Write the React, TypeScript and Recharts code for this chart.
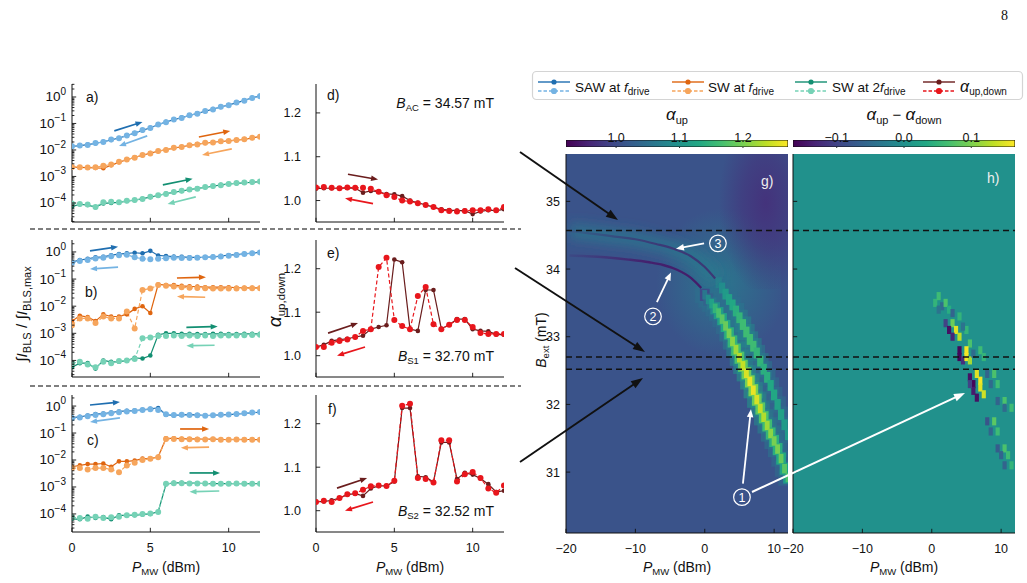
import React from 'react';
import {
  LineChart,
  ComposedChart,
  Line,
  XAxis,
  YAxis,
  ReferenceLine,
  ReferenceArea,
  ReferenceDot,
} from 'recharts';

const FONT = '"Liberation Sans", Arial, Helvetica, sans-serif';
const INK = '#111';
const AXIS = { stroke: INK, strokeWidth: 1 };

// MW drive power of the line scans (dBm)
const power = [0, 0.5, 1, 1.5, 2, 2.5, 3, 3.5, 4, 4.5, 5, 5.5, 6, 6.5, 7, 7.5, 8, 8.5, 9, 9.5, 10, 10.5, 11, 11.5, 12];

// log10 of the normalised BLS intensity, sweep up (solid) / sweep down (dashed)
// a) B = 34.57 mT
const sawUpA = [-1.87, -1.84, -1.8, -1.75, -1.69, -1.62, -1.55, -1.46, -1.36, -1.26, -1.16, -1.05, -0.94, -0.86, -0.78, -0.7, -0.62, -0.54, -0.46, -0.38, -0.3, -0.22, -0.13, -0.03, 0.04];
const sawDownA = [-1.86, -1.83, -1.81, -1.74, -1.7, -1.61, -1.56, -1.45, -1.37, -1.25, -1.17, -1.04, -0.95, -0.85, -0.79, -0.69, -0.63, -0.53, -0.47, -0.37, -0.31, -0.21, -0.14, -0.04, 0.03];
const swUpA = [-2.65, -2.66, -2.67, -2.68, -2.69, -2.58, -2.46, -2.37, -2.28, -2.2, -2.12, -2.05, -1.99, -1.93, -1.88, -1.83, -1.78, -1.74, -1.71, -1.68, -1.66, -1.63, -1.59, -1.55, -1.49];
const swDownA = [-2.64, -2.65, -2.66, -2.65, -2.6, -2.55, -2.45, -2.36, -2.29, -2.19, -2.13, -2.04, -2.0, -1.92, -1.89, -1.82, -1.79, -1.73, -1.72, -1.67, -1.66, -1.62, -1.6, -1.54, -1.5];
const sw2UpA = [-4.14, -4.05, -4.08, -4.16, -4.02, -4.0, -3.98, -3.93, -3.9, -3.84, -3.78, -3.72, -3.65, -3.6, -3.55, -3.5, -3.45, -3.41, -3.37, -3.32, -3.28, -3.26, -3.24, -3.22, -3.2];
const sw2DownA = [-4.02, -4.04, -4.06, -4.15, -3.97, -3.96, -3.97, -3.92, -3.89, -3.85, -3.77, -3.71, -3.66, -3.59, -3.54, -3.49, -3.46, -3.4, -3.36, -3.33, -3.29, -3.25, -3.23, -3.21, -3.19];

// b) B = 32.70 mT
const sawUpB = [-0.37, -0.3, -0.25, -0.2, -0.18, -0.12, -0.08, -0.05, -0.03, -0.05, 0.04, -0.13, -0.15, -0.17, -0.18, -0.2, -0.2, -0.2, -0.18, -0.15, -0.12, -0.1, -0.07, -0.04, -0.01];
const sawDownB = [-0.4, -0.33, -0.3, -0.24, -0.21, -0.16, -0.12, -0.1, -0.2, -0.25, -0.27, -0.25, -0.23, -0.21, -0.22, -0.22, -0.21, -0.2, -0.19, -0.17, -0.14, -0.11, -0.08, -0.05, -0.02];
const swUpB = [-2.55, -2.35, -2.4, -2.55, -2.3, -2.38, -2.38, -2.3, -2.1, -2.0, -2.25, -1.2, -1.22, -1.22, -1.25, -1.27, -1.28, -1.3, -1.3, -1.3, -1.3, -1.32, -1.32, -1.32, -1.32];
const swDownB = [-2.7, -2.45, -2.45, -2.62, -2.38, -2.45, -2.45, -2.2, -2.82, -1.4, -1.35, -1.22, -1.25, -1.27, -1.3, -1.32, -1.33, -1.34, -1.35, -1.35, -1.35, -1.35, -1.34, -1.34, -1.34];
const sw2UpB = [-4.25, -4.1, -4.1, -4.3, -4.0, -4.05, -4.05, -4.0, -3.9, -3.93, -3.82, -3.05, -3.0, -3.0, -3.02, -3.02, -3.03, -3.03, -3.02, -3.02, -3.03, -3.03, -3.02, -3.02, -3.02];
const sw2DownB = [-4.1, -4.05, -4.15, -4.25, -4.05, -4.1, -4.02, -4.0, -3.95, -3.18, -3.15, -3.1, -3.1, -3.08, -3.1, -3.08, -3.1, -3.08, -3.1, -3.08, -3.08, -3.08, -3.07, -3.06, -3.05];

// c) B = 32.52 mT
const sawUpC = [-0.43, -0.4, -0.35, -0.3, -0.28, -0.24, -0.2, -0.18, -0.17, -0.14, -0.1, -0.07, -0.32, -0.35, -0.33, -0.32, -0.33, -0.35, -0.34, -0.33, -0.32, -0.3, -0.27, -0.25, -0.23];
const sawDownC = [-0.45, -0.42, -0.38, -0.33, -0.3, -0.27, -0.23, -0.2, -0.18, -0.15, -0.12, -0.15, -0.3, -0.33, -0.32, -0.33, -0.34, -0.36, -0.34, -0.32, -0.31, -0.29, -0.27, -0.24, -0.22];
const swUpC = [-2.25, -2.2, -2.15, -2.15, -2.13, -2.25, -2.05, -2.05, -2.02, -1.95, -1.95, -1.88, -1.2, -1.2, -1.21, -1.22, -1.22, -1.23, -1.22, -1.24, -1.24, -1.23, -1.24, -1.24, -1.25];
const swDownC = [-2.3, -2.3, -2.35, -2.3, -2.3, -2.35, -2.45, -2.2, -2.1, -2.0, -1.95, -1.9, -1.22, -1.22, -1.23, -1.23, -1.24, -1.24, -1.23, -1.25, -1.25, -1.24, -1.25, -1.25, -1.25];
const sw2UpC = [-4.18, -4.2, -4.1, -4.15, -4.12, -4.2, -4.05, -4.05, -4.05, -4.02, -4.0, -3.92, -2.9, -2.85, -2.85, -2.86, -2.86, -2.88, -2.87, -2.88, -2.87, -2.88, -2.87, -2.88, -2.88];
const sw2DownC = [-4.12, -4.15, -4.18, -4.1, -4.15, -4.12, -4.1, -4.05, -4.03, -4.0, -3.98, -3.93, -2.88, -2.86, -2.86, -2.87, -2.87, -2.87, -2.88, -2.88, -2.88, -2.87, -2.88, -2.88, -2.88];

// alpha_up / alpha_down at the three fields
const alphaUpD = [1.027, 1.028, 1.028, 1.028, 1.029, 1.028, 1.018, 1.022, 1.02, 1.015, 1.014, 1.01, 1.0, 0.995, 0.99, 0.985, 0.98, 0.978, 0.977, 0.977, 0.969, 0.975, 0.978, 0.977, 0.98];
const alphaDownD = [1.03, 1.031, 1.029, 1.028, 1.03, 1.029, 1.029, 1.027, 1.02, 1.012, 1.008, 1.0, 0.998, 0.994, 0.99, 0.985, 0.978, 0.976, 0.975, 0.976, 0.978, 0.978, 0.98, 0.978, 0.985];
const alphaUpE = [1.02, 1.025, 1.034, 1.037, 1.039, 1.043, 1.046, 1.061, 1.066, 1.07, 1.221, 1.215, 1.061, 1.057, 1.151, 1.151, 1.062, 1.071, 1.084, 1.084, 1.061, 1.057, 1.056, 1.049, 1.048];
const alphaDownE = [1.02, 1.02, 1.03, 1.034, 1.037, 1.043, 1.057, 1.061, 1.204, 1.225, 1.082, 1.068, 1.061, 1.137, 1.158, 1.072, 1.061, 1.071, 1.082, 1.082, 1.066, 1.052, 1.05, 1.05, 1.05];
const alphaUpF = [1.021, 1.021, 1.024, 1.029, 1.037, 1.039, 1.034, 1.051, 1.057, 1.057, 1.067, 1.236, 1.236, 1.079, 1.077, 1.066, 1.157, 1.157, 1.073, 1.087, 1.083, 1.074, 1.061, 1.043, 1.046];
const alphaDownF = [1.02, 1.023, 1.02, 1.029, 1.038, 1.04, 1.048, 1.056, 1.058, 1.057, 1.069, 1.241, 1.246, 1.075, 1.073, 1.065, 1.162, 1.162, 1.067, 1.084, 1.089, 1.075, 1.051, 1.041, 1.058];

// field cuts marked in the maps (mT)
const B_AC = 34.57;
const B_S1 = 32.7;
const B_S2 = 32.52;

// alpha_up map: weak resonance arcs at low power
const arcLowerP = [-19.5, -17, -14, -11, -8, -6, -4, -2, -0.5];
const arcLowerB = [34.2, 34.19, 34.17, 34.14, 34.1, 34.06, 33.99, 33.87, 33.72];
const arcUpperP = [-19.5, -16, -13, -10, -7, -4.5, -2, 0, 1.5];
const arcUpperB = [34.56, 34.52, 34.48, 34.44, 34.37, 34.3, 34.19, 34.03, 33.86];
// main branch (1) column by column
const branchP = [0, 0.5, 1, 1.5, 2, 2.5, 3, 3.5, 4, 4.5, 5, 5.5, 6, 6.5, 7, 7.5, 8, 8.5, 9, 9.5, 10, 10.5, 11, 11.5, 12];
const branchB = [33.62, 33.55, 33.49, 33.42, 33.35, 33.26, 33.16, 33.05, 32.93, 32.81, 32.69, 32.57, 32.46, 32.34, 32.21, 32.07, 31.94, 31.81, 31.69, 31.57, 31.46, 31.34, 31.2, 31.05, 30.92];
const branchA = [1.06, 1.09, 1.12, 1.15, 1.17, 1.18, 1.19, 1.2, 1.21, 1.22, 1.23, 1.24, 1.25, 1.26, 1.26, 1.25, 1.24, 1.23, 1.22, 1.21, 1.2, 1.2, 1.19, 1.18, 1.17];
// second branch
const secondP = [2, 2.5, 3, 3.5, 4, 4.5, 5, 5.5, 6, 6.5, 7, 7.5, 8, 8.5, 9, 9.5, 10, 10.5, 11, 11.5, 12];
const secondB = [33.8, 33.72, 33.63, 33.55, 33.47, 33.38, 33.28, 33.18, 33.07, 32.96, 32.86, 32.76, 32.64, 32.52, 32.4, 32.28, 32.14, 32.0, 31.85, 31.7, 31.55];
const secondA = [1.07, 1.09, 1.11, 1.12, 1.13, 1.14, 1.15, 1.16, 1.16, 1.16, 1.16, 1.15, 1.15, 1.14, 1.14, 1.13, 1.13, 1.12, 1.12, 1.11, 1.11];
const G_BASE = 1.01;
const G_DARK = 0.96;

// alpha_up - alpha_down map: non-zero cells
const diffP = [0.5, 1, 1.5, 2, 2.5, 3, 4, 1, 2, 3, 2.5, 3.5, 3, 4, 5, 5.5, 4.5, 4, 4, 4.5, 5, 5, 5.5, 6, 7, 7.5, 5.5, 6, 6, 6.5, 6.5, 7, 7, 7.5, 5.5, 8, 9, 8.5, 9.5, 9.5, 10.5, 10.5, 11.5, 8, 9, 8.5, 9.5, 9.5, 10.5, 10, 11, 10.5, 11.5];
const diffB = [33.5, 33.6, 33.45, 33.5, 33.4, 33.35, 33.3, 33.4, 33.2, 33.2, 33.1, 33.1, 33.0, 33.0, 33.1, 32.9, 33.15, 32.8, 32.7, 32.65, 32.8, 32.7, 32.65, 32.75, 32.8, 32.7, 32.4, 32.3, 32.2, 32.1, 32.45, 32.35, 32.25, 32.15, 32.3, 32.45, 32.45, 32.3, 32.3, 32.05, 32.05, 31.95, 31.95, 31.75, 31.75, 31.6, 31.6, 31.35, 31.35, 31.25, 31.25, 31.1, 31.1];
const diffV = [0.05, 0.06, -0.05, 0.07, 0.04, -0.06, 0.05, -0.04, -0.1, 0.09, -0.15, 0.15, -0.13, 0.13, 0.05, 0.07, -0.04, -0.16, -0.16, -0.12, 0.16, 0.16, 0.12, -0.05, 0.06, 0.05, -0.15, -0.16, -0.14, -0.15, 0.15, 0.16, 0.15, 0.14, -0.1, -0.06, 0.07, -0.05, 0.06, -0.06, 0.07, -0.05, 0.06, -0.08, 0.08, -0.06, 0.06, -0.07, 0.07, -0.06, 0.06, -0.06, 0.05];

const C = {
  sawUp: '#1f6eb0',
  sawDown: '#74b3e3',
  swUp: '#df650f',
  swDown: '#f6a55c',
  sw2Up: '#138f72',
  sw2Down: '#76d2b6',
  aUp: '#6a1d1d',
  aDown: '#e8161c',
};

// sweep direction arrows [x1, y1, x2, y2, colour]; y in log10 for a-c
const dirA = [
  [2.7, -1.28, 4.5, -0.94, C.sawUp], [4.8, -1.47, 3.0, -1.85, C.sawDown],
  [8.1, -1.51, 10.1, -1.28, C.swUp], [10.2, -1.96, 8.3, -2.19, C.swDown],
  [5.8, -3.32, 7.7, -3.09, C.sw2Up], [7.9, -3.77, 6.1, -4.04, C.sw2Down],
];
const dirB = [
  [1.15, 0.04, 2.94, 0.19, C.sawUp], [2.94, -0.56, 1.15, -0.63, C.sawDown],
  [6.7, -0.96, 8.55, -0.93, C.swUp], [8.5, -1.67, 6.7, -1.64, C.swDown],
  [7.3, -2.78, 9.3, -2.75, C.sw2Up], [9.1, -3.44, 7.3, -3.46, C.sw2Down],
];
const dirC = [
  [1.15, 0.04, 3.06, 0.15, C.sawUp], [3.06, -0.44, 1.15, -0.59, C.sawDown],
  [6.9, -0.85, 8.75, -0.85, C.swUp], [8.75, -1.52, 6.95, -1.55, C.swDown],
  [7.5, -2.48, 9.45, -2.48, C.sw2Up], [9.4, -3.15, 7.5, -3.18, C.sw2Down],
];
const dirD = [[2.04, 1.06, 3.96, 1.048, C.aUp], [3.64, 0.993, 1.85, 1.005, C.aDown]];
const dirE = [[0.77, 1.052, 2.68, 1.075, C.aUp], [3.13, 1.02, 1.34, 1.0, C.aDown]];
const dirF = [[1.34, 1.052, 3.26, 1.075, C.aUp], [3.64, 1.02, 1.85, 1.0, C.aDown]];

const VIRIDIS = ['#440154', '#482475', '#414487', '#355f8d', '#2a788e', '#21918c', '#22a884', '#44bf70', '#7ad151', '#bddf26', '#fde725'];
const hexRgb = (h: string) => [1, 3, 5].map((i) => parseInt(h.slice(i, i + 2), 16));
function viridis(t: number) {
  const s = Math.min(1, Math.max(0, t)) * 10;
  const i = Math.min(9, Math.floor(s));
  const f = s - i;
  const a = hexRgb(VIRIDIS[i]);
  const b = hexRgb(VIRIDIS[i + 1]);
  const c = a.map((v, k) => Math.round(v + (b[k] - v) * f));
  return `rgb(${c[0]},${c[1]},${c[2]})`;
}
const tA = (a: number) => (a - 0.921) / 0.35;
const tD = (d: number) => (d + 0.165) / 0.33;

function arrowGeom(x1: number, y1: number, x2: number, y2: number, hl: number, hw: number) {
  const dx = x2 - x1;
  const dy = y2 - y1;
  const L = Math.hypot(dx, dy) || 1;
  const ux = dx / L;
  const uy = dy / L;
  const bx = x2 - ux * hl;
  const by = y2 - uy * hl;
  const px = -uy * hw / 2;
  const py = ux * hw / 2;
  return { bx: bx + ux, by: by + uy, head: `${x2},${y2} ${bx + px},${by + py} ${bx - px},${by - py}` };
}

const arrowShape = (color: string, w = 1.7, hl = 7, hw = 5.5) => (p: any) => {
  const g = arrowGeom(p.x1, p.y1, p.x2, p.y2, hl, hw);
  return (
    <g>
      <line x1={p.x1} y1={p.y1} x2={g.bx} y2={g.by} stroke={color} strokeWidth={w} />
      <polygon points={g.head} fill={color} />
    </g>
  );
};

const fmtNum = (v: number) => (v < 0 ? `\u2212${-v}` : `${v}`);
const fmtOne = (v: number) => v.toFixed(1);
const fmtSigned = (v: number) => (v < 0 ? `\u2212${(-v).toFixed(1)}` : v.toFixed(1));
const fmtPow = (v: number) => {
  const e = Math.round(Math.log10(v));
  return (
    <>
      10
      <tspan dy={-6.5} fontSize={10}>{e === 0 ? '0' : `\u2212${-e}`}</tspan>
    </>
  );
};
const isMinorLog = (v: number) => {
  const e = Math.log10(v);
  return Math.abs(e - Math.round(e)) > 1e-6;
};

// inward ticks on every side, labels only where a formatter is given
const mkTick = (side: string, fmt?: (v: number) => any, minor?: (v: number) => boolean, gap = 6, size = 12.5) => (props: any) => {
  const { x, y, payload } = props;
  const v = payload.value;
  const isMin = minor ? minor(v) : false;
  const len = isMin ? 2.4 : 4.2;
  let x2 = x;
  let y2 = y;
  if (side === 'left') x2 = x + len;
  else if (side === 'right') x2 = x - len;
  else if (side === 'top') y2 = y + len;
  else y2 = y - len;
  let label = null;
  if (fmt && !isMin) {
    label = side === 'left' ? (
      <text x={x - gap} y={y + 4.5} textAnchor="end" fontFamily={FONT} fontSize={size} fill={INK}>{fmt(v)}</text>
    ) : (
      <text x={x} y={y + 19.5} textAnchor="middle" fontFamily={FONT} fontSize={size} fill={INK}>{fmt(v)}</text>
    );
  }
  return (
    <g>
      <line x1={x} y1={y} x2={x2} y2={y2} stroke={INK} strokeWidth={0.9} />
      {label}
    </g>
  );
};

const axisBase = { tickSize: 0, tickMargin: 0, tickLine: false, axisLine: AXIS, interval: 0 as const, allowDataOverflow: true };

function logTicks(lo: number, hi: number) {
  const out: number[] = [];
  for (let n = -5; n <= 0; n++) {
    for (let k = 1; k <= 9; k++) {
      const v = k * 10 ** n;
      if (v >= lo && v <= hi) out.push(v);
    }
  }
  return out;
}

const buildLogRows = (a: number[], b: number[], c: number[], d: number[], e: number[], f: number[]) =>
  power.map((p, i) => ({
    p,
    sawUp: 10 ** a[i],
    sawDown: 10 ** b[i],
    swUp: 10 ** c[i],
    swDown: 10 ** d[i],
    sw2Up: 10 ** e[i],
    sw2Down: 10 ** f[i],
  }));

const LOG_LINES = [
  { key: 'sawUp', color: C.sawUp, dashed: false },
  { key: 'sawDown', color: C.sawDown, dashed: true },
  { key: 'swUp', color: C.swUp, dashed: false },
  { key: 'swDown', color: C.swDown, dashed: true },
  { key: 'sw2Up', color: C.sw2Up, dashed: false },
  { key: 'sw2Down', color: C.sw2Down, dashed: true },
];

function LogPanel({ top, h, rows, dom, arrows, xLabels }: any) {
  const padL = 50, padR = 2, padT = 2, padB = xLabels ? 26 : 2;
  const lo = 10 ** dom[0];
  const hi = 10 ** dom[1];
  const ticks = logTicks(lo, hi);
  return (
    <div style={{ position: 'absolute', left: 72 - padL, top: top - padT }}>
      <LineChart width={188 + padL + padR} height={h + padT + padB} data={rows} margin={{ top: padT, right: padR, bottom: 0, left: 0 }}>
        <XAxis dataKey="p" type="number" domain={[0, 12]} ticks={[0, 5, 10]} height={padB} tick={mkTick('bottom', xLabels ? fmtNum : undefined)} {...axisBase} />
        <XAxis xAxisId="t" orientation="top" type="number" domain={[0, 12]} ticks={[0, 5, 10]} height={0} tick={mkTick('top')} {...axisBase} />
        <YAxis type="number" scale="log" domain={[lo, hi]} ticks={ticks} width={padL} tick={mkTick('left', fmtPow, isMinorLog, 6, 13.5)} {...axisBase} />
        <YAxis yAxisId="r" orientation="right" type="number" scale="log" domain={[lo, hi]} ticks={ticks} width={0} tick={mkTick('right', undefined, isMinorLog)} {...axisBase} />
        {LOG_LINES.map((s) => (
          <Line
            key={s.key}
            dataKey={s.key}
            stroke={s.color}
            strokeWidth={1.2}
            strokeDasharray={s.dashed ? '4 2.5' : undefined}
            dot={{ r: s.dashed ? 3 : 2.3, fill: s.color, stroke: 'none' }}
            activeDot={false}
            isAnimationActive={false}
          />
        ))}
        {arrows.map((a: any, i: number) => (
          <ReferenceLine key={`ar${i}`} segment={[{ x: a[0], y: 10 ** a[1] }, { x: a[2], y: 10 ** a[3] }]} shape={arrowShape(a[4])} />
        ))}
      </LineChart>
    </div>
  );
}

function AlphaPanel({ top, h, up, down, arrows, xLabels }: any) {
  const padL = 45, padR = 2, padT = 2, padB = xLabels ? 26 : 2;
  const rows = power.map((p, i) => ({ p, up: up[i], down: down[i] }));
  return (
    <div style={{ position: 'absolute', left: 316 - padL, top: top - padT }}>
      <LineChart width={188 + padL + padR} height={h + padT + padB} data={rows} margin={{ top: padT, right: padR, bottom: 0, left: 0 }}>
        <XAxis dataKey="p" type="number" domain={[0, 12]} ticks={[0, 5, 10]} height={padB} tick={mkTick('bottom', xLabels ? fmtNum : undefined)} {...axisBase} />
        <XAxis xAxisId="t" orientation="top" type="number" domain={[0, 12]} ticks={[0, 5, 10]} height={0} tick={mkTick('top')} {...axisBase} />
        <YAxis type="number" domain={[0.951, 1.266]} ticks={[1.0, 1.1, 1.2]} width={padL} tick={mkTick('left', fmtOne, undefined, 15)} {...axisBase} />
        <YAxis yAxisId="r" orientation="right" type="number" domain={[0.951, 1.266]} ticks={[1.0, 1.1, 1.2]} width={0} tick={mkTick('right')} {...axisBase} />
        <Line dataKey="up" stroke={C.aUp} strokeWidth={1.2} dot={{ r: 2.3, fill: C.aUp, stroke: 'none' }} activeDot={false} isAnimationActive={false} />
        <Line dataKey="down" stroke={C.aDown} strokeWidth={1.2} strokeDasharray="4 2.5" dot={{ r: 3, fill: C.aDown, stroke: 'none' }} activeDot={false} isAnimationActive={false} />
        {arrows.map((a: any, i: number) => (
          <ReferenceLine key={`ar${i}`} segment={[{ x: a[0], y: a[1] }, { x: a[2], y: a[3] }]} shape={arrowShape(a[4])} />
        ))}
      </LineChart>
    </div>
  );
}

function mapAxes(padL: number, padB: number, yLabels: boolean) {
  return [
    <XAxis key="xb" dataKey="p" type="number" domain={[-20, 12]} ticks={[-20, -10, 0, 10]} height={padB} tick={mkTick('bottom', fmtNum)} {...axisBase} />,
    <XAxis key="xt" xAxisId="t" orientation="top" type="number" domain={[-20, 12]} ticks={[-20, -10, 0, 10]} height={0} tick={mkTick('top')} {...axisBase} />,
    <YAxis key="yl" dataKey="b" type="number" domain={[30.1, 35.7]} ticks={[31, 32, 33, 34, 35]} width={padL} tick={mkTick('left', yLabels ? fmtNum : undefined, undefined, 6)} {...axisBase} />,
    <YAxis key="yr" yAxisId="r" orientation="right" type="number" domain={[30.1, 35.7]} ticks={[31, 32, 33, 34, 35]} width={0} tick={mkTick('right')} {...axisBase} />,
  ];
}

const cutLines = [B_AC, B_S1, B_S2].map((b) => (
  <ReferenceLine key={`cut${b}`} y={b} stroke={INK} strokeWidth={1.5} strokeDasharray="6 4" />
));

const circled = (n: string) => (p: any) => (
  <g>
    <circle cx={p.cx} cy={p.cy} r={8.3} fill="none" stroke="#fff" strokeWidth={1.2} />
    <text x={p.cx} y={p.cy + 4.5} textAnchor="middle" fontFamily={FONT} fontSize={12.5} fill="#fff">{n}</text>
  </g>
);

const MAP_W = 222;
const MAP_H = 379;

function MapUp() {
  const padL = 32, padR = 2, padT = 2, padB = 26;
  const W = MAP_W + padL + padR;
  const H = MAP_H + padT + padB;
  const arcLower = arcLowerP.map((p, i) => ({ p, b: arcLowerB[i] }));
  const arcUpper = arcUpperP.map((p, i) => ({ p, b: arcUpperB[i] }));
  const teal = viridis(tA(1.065));
  const dark = viridis(tA(G_DARK));
  return (
    <div style={{ position: 'absolute', left: 566 - padL, top: 154 - padT }}>
      <ComposedChart width={W} height={H} margin={{ top: padT, right: padR, bottom: 0, left: 0 }}>
        <defs>
          <filter id="gGlow" filterUnits="userSpaceOnUse" x="0" y="0" width={W} height={H}>
            <feGaussianBlur stdDeviation="6" />
          </filter>
          <radialGradient id="gPurple" cx="0.62" cy="0.42" r="0.62">
            <stop offset="0" stopColor={dark} stopOpacity={0.75} />
            <stop offset="0.5" stopColor={dark} stopOpacity={0.45} />
            <stop offset="1" stopColor={dark} stopOpacity={0} />
          </radialGradient>
          <radialGradient id="gTeal" cx="0.55" cy="0.5" r="0.5">
            <stop offset="0" stopColor={teal} stopOpacity={0.85} />
            <stop offset="1" stopColor={teal} stopOpacity={0} />
          </radialGradient>
          <linearGradient id="arcFade" x1="0" x2="1" y1="0" y2="0">
            <stop offset="0" stopColor={viridis(tA(0.94))} stopOpacity={0.15} />
            <stop offset="0.6" stopColor={viridis(tA(0.94))} stopOpacity={0.8} />
            <stop offset="1" stopColor={viridis(tA(0.94))} stopOpacity={0.9} />
          </linearGradient>
        </defs>
        {mapAxes(padL, padB, true)}
        <ReferenceArea x1={-20} x2={12} y1={30.1} y2={35.7} fill={viridis(tA(G_BASE))} fillOpacity={1} stroke="none" ifOverflow="hidden" />
        <ReferenceArea x1={-8} x2={11} y1={32.7} y2={34.9} fill="url(#gTeal)" fillOpacity={1} stroke="none" ifOverflow="hidden" />
        <ReferenceArea x1={2} x2={13} y1={33.7} y2={35.9} fill="url(#gPurple)" fillOpacity={1} stroke="none" ifOverflow="hidden" />
        {branchP.map((p, i) => (
          <ReferenceArea key={`bw${i}`} x1={p - 1.4} x2={p + 1.4} y1={branchB[i] - 0.12} y2={branchB[i] + 0.12} fill={viridis(tA(Math.max(1.05, branchA[i] - 0.14)))} fillOpacity={0.55} stroke="none" ifOverflow="hidden" />
        ))}
        {secondP.map((p, i) => (
          <ReferenceArea key={`sw${i}`} x1={p - 1.2} x2={p + 1.2} y1={secondB[i] - 0.12} y2={secondB[i] + 0.12} fill={viridis(tA(Math.max(1.05, secondA[i] - 0.08)))} fillOpacity={0.55} stroke="none" ifOverflow="hidden" />
        ))}
        {secondP.map((p, i) => (
          <ReferenceArea key={`sc${i}`} x1={p - 0.45} x2={p + 0.45} y1={secondB[i] - 0.08} y2={secondB[i] + 0.08} fill={viridis(tA(secondA[i]))} fillOpacity={1} stroke="none" ifOverflow="hidden" />
        ))}
        {branchP.map((p, i) => (
          <ReferenceArea key={`be${i}`} x1={p - 0.7} x2={p + 0.7} y1={branchB[i] - 0.09} y2={branchB[i] + 0.09} fill={viridis(tA(branchA[i] - 0.06))} fillOpacity={1} stroke="none" ifOverflow="hidden" />
        ))}
        {branchP.map((p, i) => (
          <ReferenceArea key={`bc${i}`} x1={p - 0.35} x2={p + 0.35} y1={branchB[i] - 0.07} y2={branchB[i] + 0.07} fill={viridis(tA(branchA[i]))} fillOpacity={1} stroke="none" ifOverflow="hidden" />
        ))}
        <Line data={arcUpper} dataKey="b" type="monotone" stroke={teal} strokeWidth={16} strokeOpacity={0.7} filter="url(#gGlow)" dot={false} activeDot={false} isAnimationActive={false} />
        <Line data={arcUpper} dataKey="b" type="monotone" stroke="url(#arcFade)" strokeWidth={2.2} strokeOpacity={0.7} dot={false} activeDot={false} isAnimationActive={false} />
        <Line data={arcLower} dataKey="b" type="monotone" stroke="url(#arcFade)" strokeWidth={2.4} dot={false} activeDot={false} isAnimationActive={false} />
        {cutLines}
        <ReferenceLine segment={[{ x: -0.1, y: 34.38 }, { x: -4.15, y: 34.3 }]} shape={arrowShape('#fff', 1.8, 8, 6.5)} />
        <ReferenceLine segment={[{ x: -6.9, y: 33.51 }, { x: -4.87, y: 33.95 }]} shape={arrowShape('#fff', 1.8, 8, 6.5)} />
        <ReferenceLine segment={[{ x: 5.5, y: 30.83 }, { x: 6.66, y: 31.93 }]} shape={arrowShape('#fff', 1.8, 8, 6.5)} />
        <ReferenceDot x={1.9} y={34.38} r={8} shape={circled('3')} />
        <ReferenceDot x={-7.46} y={33.3} r={8} shape={circled('2')} />
        <ReferenceDot x={5.36} y={30.63} r={8} shape={circled('1')} />
      </ComposedChart>
    </div>
  );
}

function MapDiff() {
  const padL = 16, padR = 2, padT = 2, padB = 26;
  return (
    <div style={{ position: 'absolute', left: 793 - padL, top: 154 - padT }}>
      <ComposedChart width={MAP_W + padL + padR} height={MAP_H + padT + padB} margin={{ top: padT, right: padR, bottom: 0, left: 0 }}>
        {mapAxes(padL, padB, false)}
        <ReferenceArea x1={-20} x2={12} y1={30.1} y2={35.7} fill={viridis(tD(0))} fillOpacity={1} stroke="none" ifOverflow="hidden" />
        {diffP.map((p, i) => (
          <ReferenceArea key={`d${i}`} x1={p - 0.3} x2={p + 0.3} y1={diffB[i] - 0.06} y2={diffB[i] + 0.06} fill={viridis(tD(diffV[i]))} fillOpacity={1} stroke="none" ifOverflow="hidden" />
        ))}
        {cutLines}
      </ComposedChart>
    </div>
  );
}

// colour bar: gradient strip on the map's colour scale, ticks pointing down into it
const barTick = (label: string) => (p: any) => (
  <g>
    <line x1={p.x1} y1={p.y1} x2={p.x1} y2={p.y1 + 4.5} stroke={INK} strokeWidth={0.9} />
    <text x={p.x1} y={p.y1 - 5} textAnchor="middle" fontFamily={FONT} fontSize={12.5} fill={INK}>{label}</text>
  </g>
);

function ColorBar({ left, domain, ticks, fmt, id }: any) {
  const padT = 26, padS = 2;
  return (
    <div style={{ position: 'absolute', left: left - padS, top: 140 - padT }}>
      <ComposedChart width={MAP_W + 2 * padS} height={7 + padT + 1} margin={{ top: padT, right: padS, bottom: 1, left: padS }}>
        <defs>
          <linearGradient id={id} x1="0" x2="1" y1="0" y2="0">
            {VIRIDIS.map((c, i) => <stop key={c} offset={i / 10} stopColor={c} />)}
          </linearGradient>
        </defs>
        <XAxis dataKey="v" type="number" domain={domain} height={0} hide allowDataOverflow />
        <YAxis dataKey="y" type="number" domain={[0, 1]} width={0} hide allowDataOverflow />
        <ReferenceArea x1={domain[0]} x2={domain[1]} y1={0} y2={1} fill={`url(#${id})`} fillOpacity={1} stroke={INK} strokeWidth={1} ifOverflow="hidden" />
        {ticks.map((v: number) => (
          <ReferenceLine key={v} x={v} shape={barTick(fmt(v))} />
        ))}
      </ComposedChart>
    </div>
  );
}

const PMW = () => (
  <>
    <tspan fontStyle="italic">P</tspan>
    <tspan dy={3} fontSize={9.5}>MW</tspan>
    <tspan dy={-3}> (dBm)</tspan>
  </>
);

const fDrive = (
  <>
    <tspan fontStyle="italic">f</tspan>
    <tspan dy={3} fontSize={10}>drive</tspan>
  </>
);

const legendItems = [
  { up: C.sawUp, down: C.sawDown, sx: 538, tx: 575, label: <>SAW at {fDrive}</> },
  { up: C.swUp, down: C.swDown, sx: 672, tx: 708, label: <>SW at {fDrive}</> },
  { up: C.sw2Up, down: C.sw2Down, sx: 795, tx: 832, label: <>SW at 2{fDrive}</> },
  {
    up: C.aUp, down: C.aDown, sx: 923, tx: 960,
    label: (
      <>
        <tspan fontStyle="italic" fontSize={16}>α</tspan>
        <tspan dy={3} fontSize={10}>up,down</tspan>
      </>
    ),
  },
];

function Arrow({ x1, y1, x2, y2, color, w = 2, hl = 12, hw = 8.5 }: any) {
  const g = arrowGeom(x1, y1, x2, y2, hl, hw);
  return (
    <g>
      <line x1={x1} y1={y1} x2={g.bx} y2={g.by} stroke={color} strokeWidth={w} />
      <polygon points={g.head} fill={color} />
    </g>
  );
}

function Overlay() {
  const t = { fontFamily: FONT, fill: INK };
  return (
    <svg width={1027} height={583} style={{ position: 'absolute', left: 0, top: 0, pointerEvents: 'none' }}>
      <text x={1001} y={20} fontFamily='"Liberation Serif", serif' fontSize={14} fill={INK}>8</text>

      {/* legend */}
      <rect x={532.5} y={71.5} width={490} height={28} rx={4} fill="#fff" stroke="#d4d4d4" strokeWidth={1.2} />
      {legendItems.map((it) => (
        <g key={it.sx}>
          <line x1={it.sx} y1={82} x2={it.sx + 32} y2={82} stroke={it.up} strokeWidth={1.4} />
          <circle cx={it.sx + 16} cy={82} r={2.6} fill={it.up} />
          <line x1={it.sx} y1={91} x2={it.sx + 32} y2={91} stroke={it.down} strokeWidth={1.4} strokeDasharray="3.5 2" />
          <circle cx={it.sx + 16} cy={91} r={3.1} fill={it.down} />
          <text x={it.tx} y={92} fontSize={13.5} {...t}>{it.label}</text>
        </g>
      ))}

      {/* colour bar titles */}
      <text x={677} y={120} textAnchor="middle" fontSize={12} {...t}>
        <tspan fontStyle="italic" fontSize={17}>α</tspan>
        <tspan dy={4} fontSize={11}>up</tspan>
      </text>
      <text x={904} y={120} textAnchor="middle" fontSize={12} {...t}>
        <tspan fontStyle="italic" fontSize={17}>α</tspan>
        <tspan dy={4} fontSize={11}>up</tspan>
        <tspan dy={-4} fontSize={15}> − </tspan>
        <tspan fontStyle="italic" fontSize={17}>α</tspan>
        <tspan dy={4} fontSize={11}>down</tspan>
      </text>

      {/* separators between the field cuts */}
      <line x1={30} y1={229} x2={521} y2={229} stroke="#555" strokeWidth={1.5} strokeDasharray="5 3" />
      <line x1={30} y1={386} x2={521} y2={386} stroke="#555" strokeWidth={1.5} strokeDasharray="5 3" />

      {/* axis titles */}
      <text transform="translate(27,314) rotate(-90)" textAnchor="middle" fontSize={15.5} {...t}>
        <tspan>∫</tspan>
        <tspan fontStyle="italic">I</tspan>
        <tspan dy={3.5} fontSize={11}>BLS</tspan>
        <tspan dy={-3.5}> / ∫</tspan>
        <tspan fontStyle="italic">I</tspan>
        <tspan dy={3.5} fontSize={11}>BLS,max</tspan>
      </text>
      <text transform="translate(281,300) rotate(-90)" textAnchor="middle" {...t}>
        <tspan fontStyle="italic" fontSize={19}>α</tspan>
        <tspan dy={4} fontSize={11.5}>up,down</tspan>
      </text>
      <text transform="translate(546,340) rotate(-90)" textAnchor="middle" fontSize={14} {...t}>
        <tspan fontStyle="italic">B</tspan>
        <tspan dy={3} fontSize={9.5}>ext</tspan>
        <tspan dy={-3}> (mT)</tspan>
      </text>
      {[166, 410, 677, 904].map((cx) => (
        <text key={cx} x={cx} y={572} textAnchor="middle" fontSize={14} {...t}><PMW /></text>
      ))}

      {/* panel tags */}
      {[['a)', 86, 102], ['b)', 85, 297], ['c)', 87, 445], ['d)', 327, 100], ['e)', 327, 258], ['f)', 328, 414]].map(([s, x, y]) => (
        <text key={s as string} x={x as number} y={y as number} fontSize={14} {...t}>{s}</text>
      ))}
      <text x={761} y={186} fontSize={14} fontFamily={FONT} fill="#eee">g)</text>
      <text x={987} y={183} fontSize={14} fontFamily={FONT} fill="#eee">h)</text>

      {/* field of each cut */}
      {[['AC', '34.57', 108], ['S1', '32.70', 361], ['S2', '32.52', 516]].map(([sub, val, y]) => (
        <text key={sub as string} x={494} y={y as number} textAnchor="end" fontSize={14} {...t}>
          <tspan fontStyle="italic">B</tspan>
          <tspan dy={3} fontSize={9.5}>{sub}</tspan>
          <tspan dy={-3}> = {val} mT</tspan>
        </text>
      ))}

      {/* cut markers pointing into the maps */}
      <Arrow x1={520} y1={152} x2={618} y2={220} color={INK} />
      <Arrow x1={515} y1={268} x2={645} y2={352} color={INK} />
      <Arrow x1={520} y1={462} x2={643} y2={378} color={INK} />
      <Arrow x1={752} y1={492} x2={965} y2={393} color="#fff" w={2} hl={11} hw={8} />
    </svg>
  );
}

export default function App() {
  return (
    <div style={{ position: 'absolute', left: 0, top: 0, width: 1027, height: 583, background: '#fff', overflow: 'hidden', fontFamily: FONT }}>
      <LogPanel top={84} h={138} dom={[-4.72, 0.49]} rows={buildLogRows(sawUpA, sawDownA, swUpA, swDownA, sw2UpA, sw2DownA)} arrows={dirA} />
      <LogPanel top={240} h={137} dom={[-4.61, 0.44]} rows={buildLogRows(sawUpB, sawDownB, swUpB, swDownB, sw2UpB, sw2DownB)} arrows={dirB} />
      <LogPanel top={395} h={137} dom={[-4.67, 0.41]} rows={buildLogRows(sawUpC, sawDownC, swUpC, swDownC, sw2UpC, sw2DownC)} arrows={dirC} xLabels />
      <AlphaPanel top={84} h={138} up={alphaUpD} down={alphaDownD} arrows={dirD} />
      <AlphaPanel top={240} h={137} up={alphaUpE} down={alphaDownE} arrows={dirE} />
      <AlphaPanel top={395} h={137} up={alphaUpF} down={alphaDownF} arrows={dirF} xLabels />
      <ColorBar left={566} domain={[0.921, 1.271]} ticks={[1.0, 1.1, 1.2]} fmt={fmtOne} id="cbUp" />
      <ColorBar left={793} domain={[-0.165, 0.165]} ticks={[-0.1, 0, 0.1]} fmt={fmtSigned} id="cbDiff" />
      <MapUp />
      <MapDiff />
      <Overlay />
    </div>
  );
}
